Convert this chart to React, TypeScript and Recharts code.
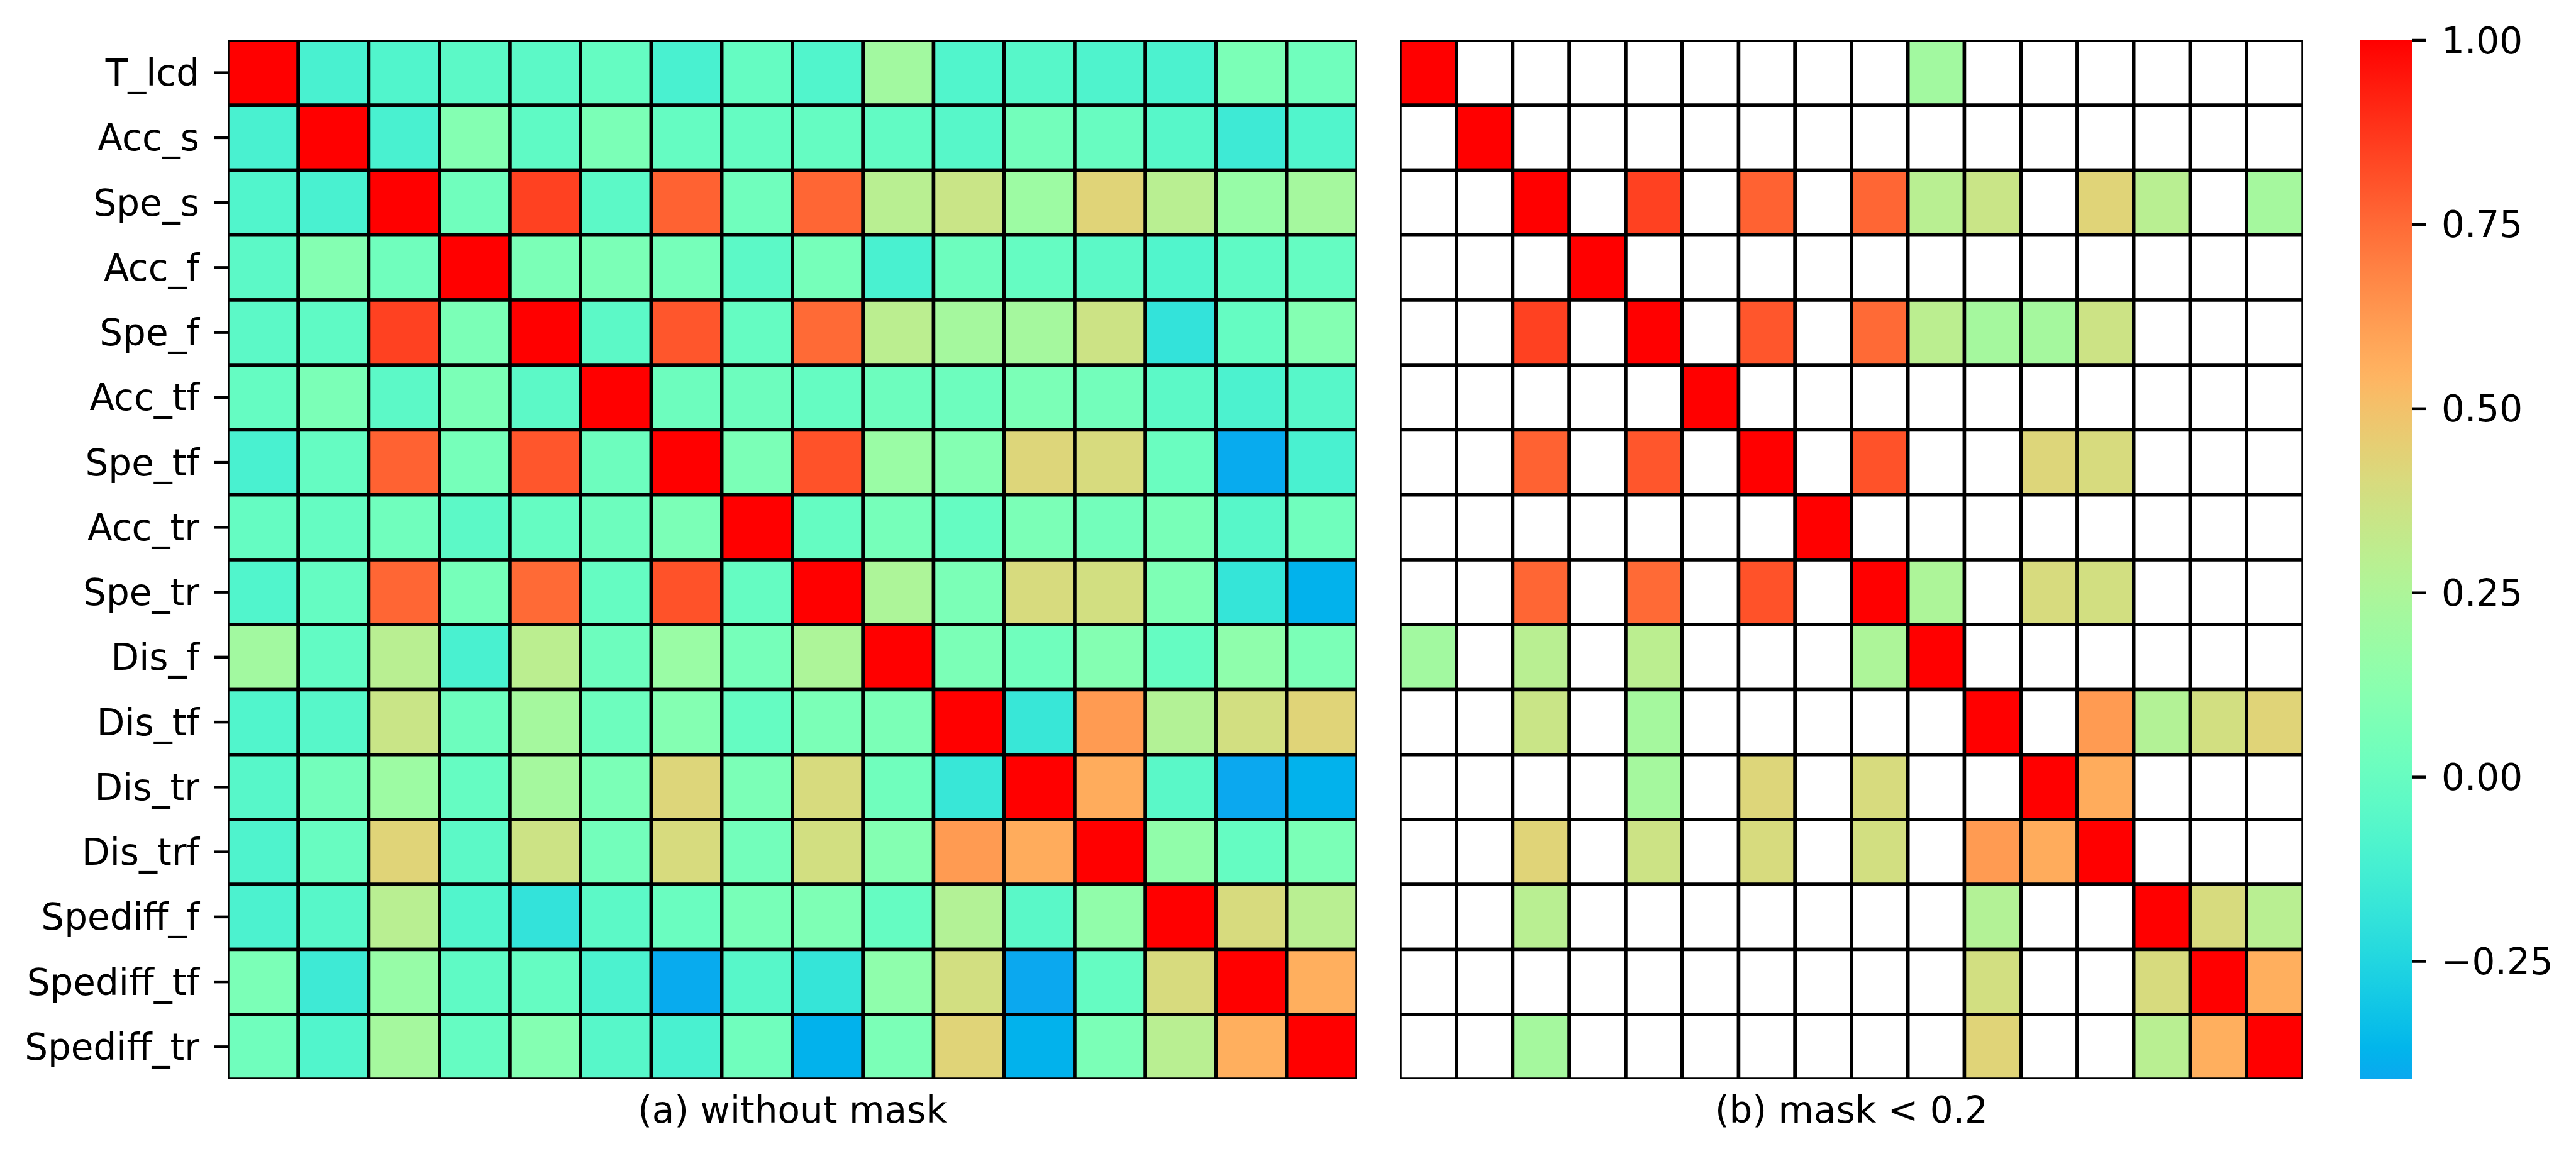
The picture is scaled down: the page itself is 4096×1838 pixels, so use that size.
import React from 'react';
import { ScatterChart, Scatter, XAxis, YAxis, ReferenceArea, Label } from 'recharts';

// ---------------- data ----------------
const LABELS = [
  'T_lcd', 'Acc_s', 'Spe_s', 'Acc_f', 'Spe_f', 'Acc_tf', 'Spe_tf', 'Acc_tr',
  'Spe_tr', 'Dis_f', 'Dis_tf', 'Dis_tr', 'Dis_trf', 'Spediff_f', 'Spediff_tf', 'Spediff_tr',
];

const ROW_T_lcd = [1.0, -0.11, -0.08, -0.04, -0.04, -0.01, -0.11, -0.01, -0.08, 0.21, -0.08, -0.06, -0.09, -0.1, 0.07, 0.03];
const ROW_Acc_s = [-0.11, 1.0, -0.11, 0.1, -0.03, 0.07, -0.01, -0.01, -0.01, -0.02, -0.06, 0.04, 0.0, -0.06, -0.15, -0.08];
const ROW_Spe_s = [-0.08, -0.11, 1.0, 0.03, 0.85, -0.04, 0.77, 0.03, 0.76, 0.29, 0.35, 0.19, 0.43, 0.29, 0.17, 0.22];
const ROW_Acc_f = [-0.04, 0.1, 0.03, 1.0, 0.07, 0.07, 0.05, -0.04, 0.05, -0.11, 0.02, -0.01, -0.04, -0.08, -0.03, -0.01];
const ROW_Spe_f = [-0.04, -0.03, 0.85, 0.07, 1.0, -0.04, 0.8, -0.01, 0.75, 0.3, 0.22, 0.22, 0.36, -0.19, -0.01, 0.1];
const ROW_Acc_tf = [-0.01, 0.07, -0.04, 0.07, -0.04, 1.0, 0.02, 0.02, -0.01, 0.02, 0.02, 0.07, 0.04, -0.04, -0.1, -0.06];
const ROW_Spe_tf = [-0.11, -0.01, 0.77, 0.05, 0.8, 0.02, 1.0, 0.07, 0.81, 0.18, 0.1, 0.42, 0.4, 0.01, -0.4, -0.11];
const ROW_Acc_tr = [-0.01, -0.01, 0.03, -0.04, -0.01, 0.02, 0.07, 1.0, -0.01, 0.05, -0.01, 0.07, 0.04, 0.06, -0.06, 0.03];
const ROW_Spe_tr = [-0.08, -0.01, 0.76, 0.05, 0.75, -0.01, 0.81, -0.01, 1.0, 0.25, 0.07, 0.4, 0.38, 0.08, -0.18, -0.38];
const ROW_Dis_f = [0.21, -0.02, 0.29, -0.11, 0.3, 0.02, 0.18, 0.05, 0.25, 1.0, 0.07, 0.03, 0.1, -0.01, 0.14, 0.07];
const ROW_Dis_tf = [-0.08, -0.06, 0.35, 0.02, 0.22, 0.02, 0.1, -0.01, 0.07, 0.07, 1.0, -0.17, 0.62, 0.27, 0.38, 0.43];
const ROW_Dis_tr = [-0.06, 0.04, 0.19, -0.01, 0.22, 0.07, 0.42, 0.07, 0.4, 0.03, -0.17, 1.0, 0.57, -0.05, -0.41, -0.38];
const ROW_Dis_trf = [-0.09, 0.0, 0.43, -0.04, 0.36, 0.04, 0.4, 0.04, 0.38, 0.1, 0.62, 0.57, 1.0, 0.15, -0.01, 0.07];
const ROW_Spediff_f = [-0.1, -0.06, 0.29, -0.08, -0.19, -0.04, 0.01, 0.06, 0.08, -0.01, 0.27, -0.05, 0.15, 1.0, 0.4, 0.29];
const ROW_Spediff_tf = [0.07, -0.15, 0.17, -0.03, -0.01, -0.1, -0.4, -0.06, -0.18, 0.14, 0.38, -0.41, -0.01, 0.4, 1.0, 0.56];
const ROW_Spediff_tr = [0.03, -0.08, 0.22, -0.01, 0.1, -0.06, -0.11, 0.03, -0.38, 0.07, 0.43, -0.38, 0.07, 0.29, 0.56, 1.0];

const MATRIX = [
  ROW_T_lcd, ROW_Acc_s, ROW_Spe_s, ROW_Acc_f, ROW_Spe_f, ROW_Acc_tf, ROW_Spe_tf, ROW_Acc_tr,
  ROW_Spe_tr, ROW_Dis_f, ROW_Dis_tf, ROW_Dis_tr, ROW_Dis_trf, ROW_Spediff_f, ROW_Spediff_tf, ROW_Spediff_tr,
];

const COLORBAR_TICKS = [-0.25, 0, 0.25, 0.5, 0.75, 1.0];
const MASK_THRESHOLD = 0.2;
const TITLE_A = '(a) without mask';
const TITLE_B = '(b) mask < 0.2';

// ---------------- colour map (matplotlib "rainbow", truncated) ----------------
const VMIN = Math.min(...MATRIX.flat());
const VMAX = Math.max(...MATRIX.flat());
const CMAP_LOW = 0.229;
const CMAP_HIGH = 1.0;

const clamp = (t: number) => Math.max(0, Math.min(1, t));
function rainbow(x: number): string {
  const r = clamp(Math.abs(2 * x - 0.5));
  const g = clamp(Math.sin(Math.PI * x));
  const b = clamp(Math.cos((Math.PI * x) / 2));
  return `rgb(${Math.round(r * 255)},${Math.round(g * 255)},${Math.round(b * 255)})`;
}
function colorFor(v: number): string {
  const t = clamp((v - VMIN) / (VMAX - VMIN));
  return rainbow(CMAP_LOW + (CMAP_HIGH - CMAP_LOW) * t);
}

// ---------------- layout ----------------
const N = LABELS.length;
const FONT = 'DejaVu Sans';
const FS = 58;
const EDGE = 5.5;
const TOP = 64;
const PLOT_H = 1652;
const BOTTOM = 1838 - TOP - PLOT_H;
const LABEL_BASELINE = 1785;

const LEFT_W = 2180;
const LEFT_YAXIS_W = 362;
const LEFT_PLOT_W = 1796;

const RIGHT_X = 2190;
const RIGHT_W = 1490;
const RIGHT_ML = 36;
const RIGHT_PLOT_W = 1436;

const CB_X = 3700;
const CB_W = 396;
const CB_ML = 53;
const CB_PLOT_W = 83;

const cells = MATRIX.flatMap((row, i) => row.map((v, j) => ({ x: j + 0.5, y: i + 0.5, v })));
const CENTER_TICKS = LABELS.map((_, i) => i + 0.5);

const makeShape = (cw: number, ch: number, masked: boolean) => (props: any) => {
  const { cx, cy, payload } = props;
  const v = payload.v as number;
  const fill = masked && v < MASK_THRESHOLD ? '#ffffff' : colorFor(v);
  return (
    <rect
      x={cx - cw / 2}
      y={cy - ch / 2}
      width={cw}
      height={ch}
      fill={fill}
      stroke="#000"
      strokeWidth={EDGE}
    />
  );
};

const titleLabel = (text: string, cx: number) => () => (
  <text x={cx} y={LABEL_BASELINE} textAnchor="middle" fontFamily={FONT} fontSize={FS} fill="#000">
    {text}
  </text>
);

const gradStops = Array.from({ length: 65 }, (_, k) => k / 64);

export default function App() {
  const cwL = LEFT_PLOT_W / N;
  const ch = PLOT_H / N;
  const cwR = RIGHT_PLOT_W / N;
  return (
    <div style={{ position: 'absolute', left: 0, top: 0, width: 4096, height: 1838, background: '#fff', fontFamily: FONT }}>
      <div style={{ position: 'absolute', left: 0, top: 0 }}>
        <ScatterChart width={LEFT_W} height={1838} margin={{ top: TOP, right: LEFT_W - LEFT_YAXIS_W - LEFT_PLOT_W, bottom: 0, left: 0 }}>
          <XAxis
            type="number"
            dataKey="x"
            domain={[0, N]}
            allowDataOverflow
            tick={false}
            tickLine={false}
            axisLine={false}
            height={BOTTOM}
          >
            <Label content={titleLabel(TITLE_A, LEFT_YAXIS_W + LEFT_PLOT_W / 2)} />
          </XAxis>
          <YAxis
            type="number"
            dataKey="y"
            domain={[0, N]}
            reversed
            allowDataOverflow
            ticks={CENTER_TICKS}
            interval={0}
            tickFormatter={(v: number) => LABELS[Math.floor(v)]}
            width={LEFT_YAXIS_W}
            tickSize={21}
            tickMargin={24}
            axisLine={false}
            stroke="#000"
            tickLine={{ stroke: '#000', strokeWidth: 4.5 }}
            tick={{ fontSize: FS, fontFamily: FONT, fill: '#000' }}
          />
          <Scatter data={cells} isAnimationActive={false} shape={makeShape(cwL, ch, false)} />
        </ScatterChart>
      </div>

      <div style={{ position: 'absolute', left: RIGHT_X, top: 0 }}>
        <ScatterChart width={RIGHT_W} height={1838} margin={{ top: TOP, right: RIGHT_W - RIGHT_ML - RIGHT_PLOT_W, bottom: 0, left: RIGHT_ML }}>
          <XAxis
            type="number"
            dataKey="x"
            domain={[0, N]}
            allowDataOverflow
            tick={false}
            tickLine={false}
            axisLine={false}
            height={BOTTOM}
          >
            <Label content={titleLabel(TITLE_B, RIGHT_ML + RIGHT_PLOT_W / 2)} />
          </XAxis>
          <YAxis type="number" dataKey="y" domain={[0, N]} reversed allowDataOverflow hide width={0} />
          <Scatter data={cells} isAnimationActive={false} shape={makeShape(cwR, ch, true)} />
        </ScatterChart>
      </div>

      <div style={{ position: 'absolute', left: CB_X, top: 0 }}>
        <ScatterChart width={CB_W} height={1838} margin={{ top: TOP, right: 0, bottom: BOTTOM, left: CB_ML }}>
          <defs>
            <linearGradient id="cbarGrad" x1="0" y1="1" x2="0" y2="0">
              {gradStops.map((t) => (
                <stop key={t} offset={`${t * 100}%`} stopColor={colorFor(VMIN + t * (VMAX - VMIN))} />
              ))}
            </linearGradient>
          </defs>
          <XAxis type="number" dataKey="x" domain={[0, 1]} allowDataOverflow hide />
          <YAxis
            type="number"
            dataKey="y"
            orientation="right"
            domain={[VMIN, VMAX]}
            allowDataOverflow
            ticks={COLORBAR_TICKS}
            interval={0}
            tickFormatter={(v: number) => v.toFixed(2).replace('-', '\u2212')}
            width={CB_W - CB_ML - CB_PLOT_W}
            tickSize={21}
            tickMargin={25}
            axisLine={false}
            stroke="#000"
            tickLine={{ stroke: '#000', strokeWidth: 4.5 }}
            tick={{ fontSize: FS, fontFamily: FONT, fill: '#000' }}
          />
          <ReferenceArea x1={0} x2={1} y1={VMIN} y2={VMAX} fill="url(#cbarGrad)" fillOpacity={1} stroke="none" />
        </ScatterChart>
      </div>
    </div>
  );
}
